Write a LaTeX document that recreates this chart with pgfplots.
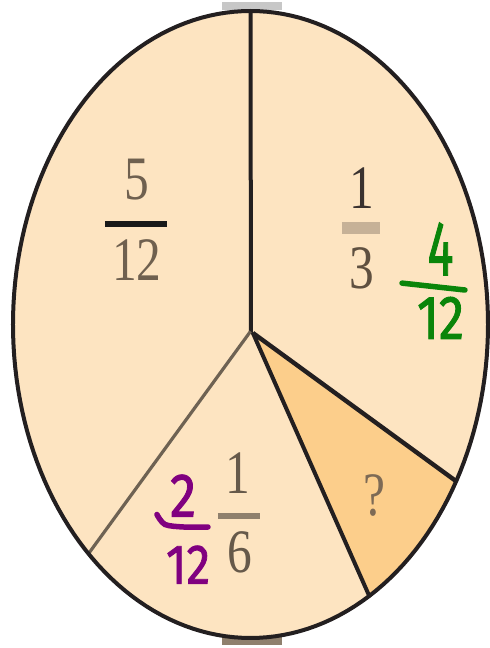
\documentclass[border=0pt]{standalone}
\usepackage{pgfplots}
\pgfplotsset{compat=1.18}
\usepackage{fontspec}
\setmainfont{Liberation Serif}
\newfontfamily\hand[FakeBold=1.6]{Fira Sans}
\definecolor{peach}{HTML}{FDE4C1}
\definecolor{qfill}{HTML}{FCCE8B}
\definecolor{edge}{HTML}{231F20}
\definecolor{softedge}{HTML}{6E6253}
\definecolor{dig}{HTML}{6F604F}
\definecolor{dig1}{HTML}{3A3230}
\definecolor{dig3}{HTML}{5F5040}
\definecolor{tan}{HTML}{C6B197}
\definecolor{six}{HTML}{66594A}
\definecolor{sixbar}{HTML}{8F806D}
\definecolor{qcol}{HTML}{7D6A55}
\definecolor{green4}{HTML}{0A850A}
\definecolor{purp}{HTML}{800080}
\tikzset{
  pr/.style={font=\fontsize{62}{62}\selectfont, inner sep=0pt, xscale=0.8},
  hw/.style={font=\hand\fontsize{62}{62}\selectfont, inner sep=0pt},
}
\begin{document}
\begin{tikzpicture}
\begin{axis}[
  scale only axis, width=490bp, height=648bp,
  xmin=-1.0547, xmax=1.0084, ymin=-1.0319, ymax=1.0351,
  hide axis, clip=false,
]
% bounding box
\addplot[draw=none] coordinates {(-1.0547,-1.0319) (1.0084,1.0351)};
% whole pie (ellipse)
\addplot[fill=peach, draw=none, domain=0:360, samples=181] ({cos(x)},{sin(x)}) -- cycle;
% "?" sector (1/12)
\addplot[fill=qfill, draw=none, domain=-60:-30, samples=31] ({cos(x)},{sin(x)}) -- (axis cs:0.01,-0.027) -- cycle;
% artifacts at top and bottom
\addplot[fill=black!22, draw=none] coordinates {(-0.12,1.003) (0.133,1.003) (0.133,1.0287) (-0.12,1.0287)} -- cycle;
\addplot[fill=sixbar, draw=none] coordinates {(-0.12,-0.9936) (0.133,-0.9936) (0.133,-1.0223) (-0.12,-1.0223)} -- cycle;
% sector boundaries
\addplot[edge, line width=4bp] coordinates {(0.002,-0.03) (0,1)};
\addplot[edge, line width=4.4bp] coordinates {(0.01,-0.027) (0.866,-0.5)};
\addplot[edge, line width=4bp] coordinates {(0.01,-0.027) (0.5,-0.866)};
\addplot[softedge, line width=3.2bp] coordinates {(0.0,-0.022) (-0.682,-0.731)};
% outline
\addplot[edge, line width=4bp, domain=0:360, samples=181] ({cos(x)},{sin(x)}) -- cycle;
% printed fractions
\node[pr, text=dig] at (axis cs:-0.478,0.461) {5};
\addplot[black!90, line width=6.5bp] coordinates {(-0.613,0.321) (-0.352,0.321)};
\node[pr, text=dig] at (axis cs:-0.478,0.206) {12};
\node[pr, text=dig1] at (axis cs:0.469,0.435) {1};
\addplot[tan, line width=12bp] coordinates {(0.385,0.309) (0.545,0.309)};
\node[pr, text=dig3] at (axis cs:0.469,0.180) {3};
\node[pr, text=six] at (axis cs:-0.053,-0.474) {1};
\addplot[sixbar, line width=6bp] coordinates {(-0.137,-0.611) (0.040,-0.611)};
\node[pr, text=six] at (axis cs:-0.044,-0.726) {6};
\node[pr, text=qcol] at (axis cs:0.524,-0.544) {?};
% handwritten
\node[hw, text=green4, font=\hand\fontsize{78}{78}\selectfont, xscale=0.62] at (axis cs:0.800,0.241) {4};
\addplot[green4, line width=5.5bp, line cap=round] coordinates {(0.638,0.132) (0.903,0.110)};
\node[hw, text=green4, font=\hand\fontsize{62}{62}\selectfont, xscale=0.82] at (axis cs:0.800,0.021) {12};
\node[hw, text=purp, font=\hand\fontsize{62}{62}\selectfont, xscale=0.85] at (axis cs:-0.284,-0.546) {2};
\addplot[purp, line width=5.5bp, line cap=round, smooth] coordinates {(-0.394,-0.606) (-0.36,-0.638) (-0.28,-0.646) (-0.179,-0.646)};
\node[hw, text=purp, font=\hand\fontsize{56}{56}\selectfont, xscale=0.85] at (axis cs:-0.263,-0.766) {12};
\end{axis}
\end{tikzpicture}
\end{document}
